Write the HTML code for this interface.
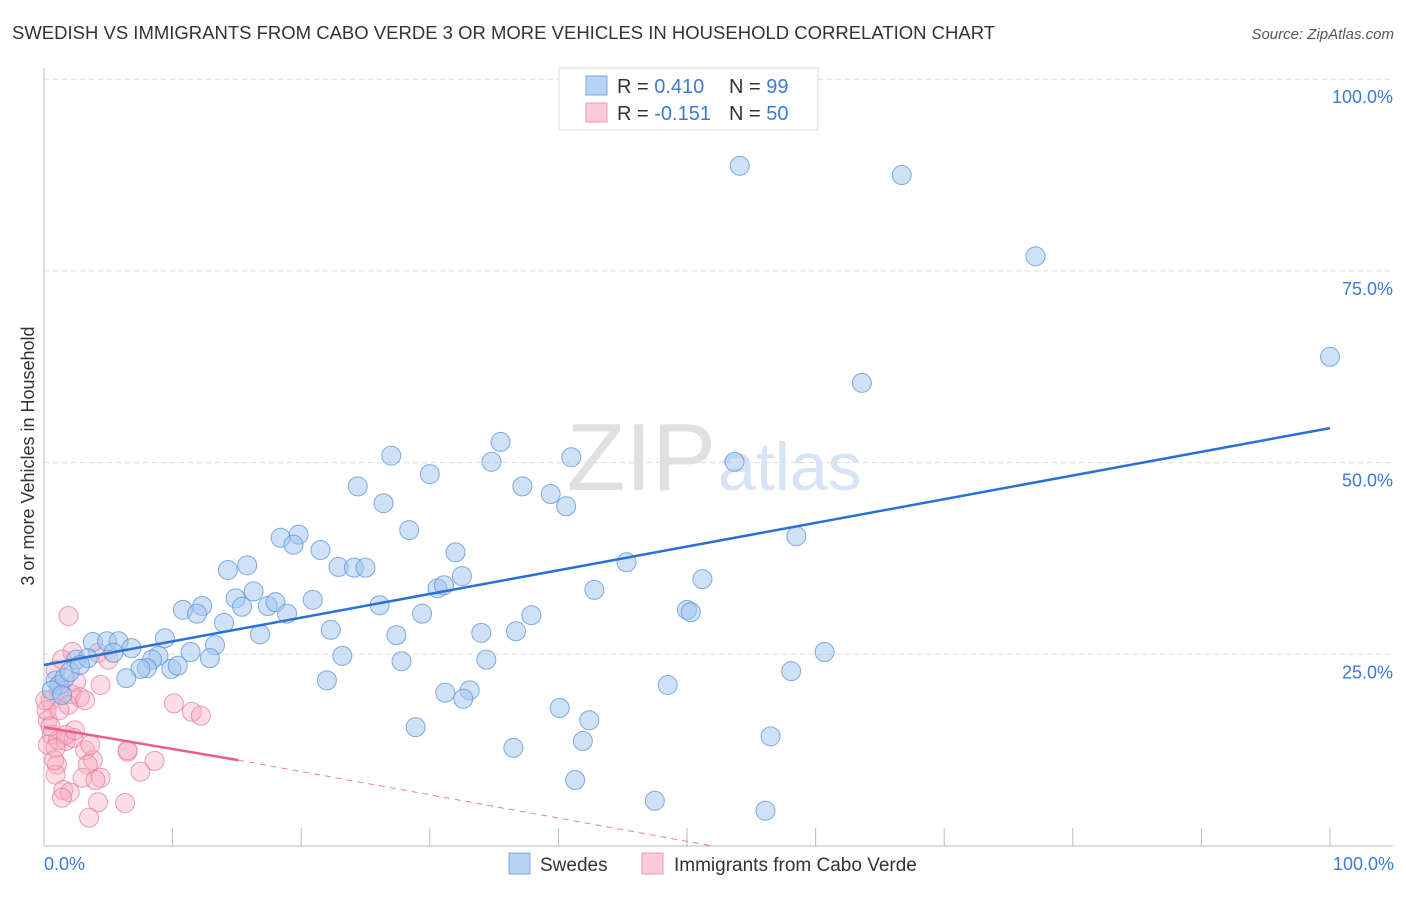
<!DOCTYPE html>
<html><head><meta charset="utf-8"><style>
body{margin:0;background:#fff;font-family:"Liberation Sans",sans-serif}
svg text{font-family:"Liberation Sans",sans-serif}
</style></head><body>
<svg id="chart" width="1406" height="892">
<text x="12" y="39" font-size="18.5" fill="#333">SWEDISH VS IMMIGRANTS FROM CABO VERDE 3 OR MORE VEHICLES IN HOUSEHOLD CORRELATION CHART</text>
<text x="1394" y="39" font-size="15" fill="#555" font-style="italic" text-anchor="end">Source: ZipAtlas.com</text>
<text x="716" y="490" font-size="96" fill="#e0e0e0" text-anchor="end" font-family="Liberation Serif">ZIP</text>
<text x="718" y="490" font-size="68" fill="#d6e4f5">atlas</text>
<g id="grid"></g>
<g id="axes"></g>
<g id="marks"></g>
<text transform="translate(34,456) rotate(-90)" font-size="18" fill="#333" text-anchor="middle">3 or more Vehicles in Household</text>
<text x="44" y="870" font-size="18" fill="#3a7bd5">0.0%</text>
<text x="1394" y="870" font-size="18" fill="#3a7bd5" text-anchor="end">100.0%</text>
<g>
<rect x="559" y="68" width="259" height="62" fill="#fff" stroke="#ddd"/>
<rect x="586" y="76" width="21" height="19" fill="#b8d2f3" stroke="#7aa6e0"/>
<rect x="586" y="103" width="21" height="19" fill="#fbc9d7" stroke="#ee9ab3"/>
<text x="617" y="93" font-size="20" fill="#333">R = <tspan fill="#3a7bd5">0.410</tspan></text>
<text x="729" y="93" font-size="20" fill="#333">N = <tspan fill="#3a7bd5">99</tspan></text>
<text x="617" y="120" font-size="20" fill="#333">R = <tspan fill="#3a7bd5">-0.151</tspan></text>
<text x="729" y="120" font-size="20" fill="#333">N = <tspan fill="#3a7bd5">50</tspan></text>
</g>
<g>
<rect x="509" y="853" width="21" height="21" fill="#b8d2f3" stroke="#7aa6e0"/>
<text x="540" y="871" font-size="19" fill="#333">Swedes</text>
<rect x="642" y="853" width="21" height="21" fill="#fbc9d7" stroke="#ee9ab3"/>
<text x="674" y="871" font-size="19" fill="#333">Immigrants from Cabo Verde</text>
</g>
</svg>
<script>
const yTicks=[25,50,75,100];
const yTickLabels=["25.0%","50.0%","75.0%","100.0%"];
const xTicks=[0,10,20,30,40,50,60,70,80,90,100];
const blueX=[54.1,66.7,77.1,100,63.6,35.5,27,34.8,41.0,53.7,30.0,24.4,37.2,39.4,26.4,40.6,28.4,58.5,18.4,19.8,19.4,21.5,32.0,14.3,15.8,22.9,24.1,25.0,45.3,32.5,51.2,30.6,31.1,42.8,16.3,14.9,20.9,12.3,10.8,15.4,17.4,18.0,26.1,50.0,50.3,11.9,18.9,29.4,37.9,14.0,22.3,27.4,34.0,36.7,16.8,9.4,3.8,4.9,5.8,6.8,13.3,5.4,11.4,8.9,23.2,60.7,8.4,12.9,34.4,27.8,2.5,3.4,9.9,8.0,7.5,10.4,58.1,6.4,22.0,48.5,31.2,33.1,32.6,40.1,42.4,28.9,41.9,56.5,36.5,41.3,47.5,56.1,0.9,1.2,1.6,2.0,0.6,2.8,1.4];
const blueY=[88.7,87.5,76.9,63.8,60.4,52.7,50.9,50.1,50.7,50.1,48.5,46.9,46.9,45.9,44.7,44.3,41.2,40.4,40.2,40.6,39.3,38.6,38.3,36.0,36.6,36.4,36.3,36.3,37.0,35.2,34.8,33.6,34.0,33.4,33.2,32.3,32.1,31.3,30.8,31.2,31.3,31.8,31.4,30.8,30.5,30.3,30.3,30.3,30.1,29.1,28.2,27.5,27.8,28.0,27.6,27.1,26.6,26.7,26.7,25.8,26.2,25.2,25.3,24.8,24.8,25.3,24.3,24.5,24.3,24.1,24.3,24.5,23.1,23.2,23.1,23.5,22.8,21.9,21.6,21.0,20.0,20.3,19.2,18.0,16.4,15.5,13.7,14.3,12.8,8.6,5.9,4.6,21.6,21.0,21.9,22.7,20.3,23.6,19.7];
const pinkX=[1.9,2.2,4.2,2.5,2.1,1.2,0.9,0.5,0.3,0.6,0.3,1.1,1.7,2.3,3.2,1.7,10.1,11.5,12.2,6.5,3.8,3.4,1.0,0.9,7.5,8.6,4.4,3.0,4.0,1.5,2.0,1.4,4.2,6.3,3.5,0.8,0.2,1.9,2.8,1.2,0.5,2.4,3.6,5.0,1.4,4.4,3.2,6.5,0.1,0.9];
const pinkY=[30.0,25.3,25.2,21.4,19.8,20.3,22.9,19.0,16.4,14.5,13.2,13.8,13.7,14.1,12.5,14.5,18.6,17.5,17.0,12.3,11.2,10.6,10.6,9.3,9.7,11.1,8.9,8.9,8.6,7.3,7.0,6.3,5.7,5.6,3.7,11.2,17.7,18.4,19.4,17.7,15.6,15.1,13.2,24.3,24.3,21.0,19.0,12.5,19.0,12.8];
const blueTrend=[[0,23.6],[100,54.5]];
const pinkTrend=[[0,15.5],[15.1,11.2]];
const pinkTrendDash=[[15.1,11.2],[52,0]];

const NS="http://www.w3.org/2000/svg";
const X=v=>44+v*12.86, Y=v=>846-v*7.668;
function mk(tag,attrs,parent){const e=document.createElementNS(NS,tag);for(const k in attrs)e.setAttribute(k,attrs[k]);document.getElementById(parent).appendChild(e);return e;}
yTicks.forEach((t,i)=>{
 const g=mk('line',{x1:44,x2:1393,y1:Y(t),y2:Y(t),stroke:'#ddd','stroke-dasharray':'5,4'},'grid');
 
 
 const l=mk('text',{x:1393,y:Y(t)+24,'font-size':18,fill:'#3a7bd5','text-anchor':'end'},'grid');
 l.textContent=yTickLabels[i];
 
 
});
const ax=mk('line',{x1:44,x2:44,y1:68,y2:846,stroke:'#bbb'},'axes');


const bx=mk('line',{x1:44,x2:1393,y1:846,y2:846,stroke:'#bbb'},'axes');


xTicks.forEach(t=>{
 const k=mk('line',{x1:X(t),x2:X(t),y1:828,y2:846,stroke:'#bbb'},'axes');
 
 
});
pinkX.forEach((v,i)=>{
 const c=mk('circle',{cx:X(v),cy:Y(pinkY[i]),r:9.5,fill:'rgba(246,170,192,0.4)',stroke:'rgba(232,120,155,0.7)','stroke-width':1},'marks');
 
 
});
blueX.forEach((v,i)=>{
 const c=mk('circle',{cx:X(v),cy:Y(blueY[i]),r:9.5,fill:'rgba(160,196,240,0.5)',stroke:'rgba(90,145,215,0.75)','stroke-width':1},'marks');
 
 
});
const bt=mk('line',{x1:X(blueTrend[0][0]),y1:Y(blueTrend[0][1]),x2:X(blueTrend[1][0]),y2:Y(blueTrend[1][1]),stroke:'#2a6fd6','stroke-width':2.5},'marks');


const pt=mk('line',{x1:X(pinkTrend[0][0]),y1:Y(pinkTrend[0][1]),x2:X(pinkTrend[1][0]),y2:Y(pinkTrend[1][1]),stroke:'#e8608a','stroke-width':2.5},'marks');


const pd=mk('line',{x1:X(pinkTrendDash[0][0]),y1:Y(pinkTrendDash[0][1]),x2:X(pinkTrendDash[1][0]),y2:Y(pinkTrendDash[1][1]),stroke:'#e8809f','stroke-width':1,'stroke-dasharray':'6,5'},'marks');


</script>
</body></html>
